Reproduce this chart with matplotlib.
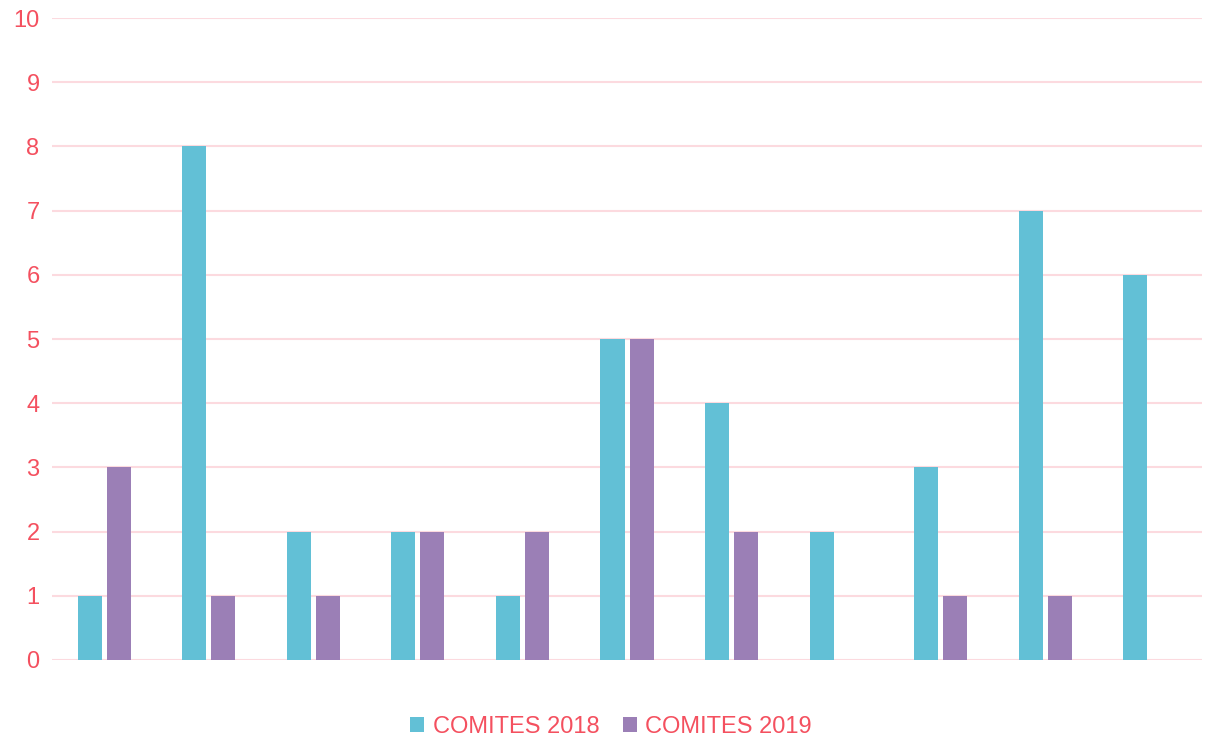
import matplotlib.pyplot as plt
import numpy as np

plt.rcParams['font.family'] = ['Liberation Sans', 'DejaVu Sans']

groups = np.arange(11)
comites_2018 = [1, 8, 2, 2, 1, 5, 4, 2, 3, 7, 6]
comites_2019 = [3, 1, 1, 2, 2, 5, 2, 0, 1, 1, 0]
yticks = list(range(0, 11))

teal = '#62C0D6'
purple = '#9B7FB6'
red = '#F4505F'
grid = '#FCDADF'

fig = plt.figure(figsize=(12.05, 7.36), dpi=100)
ax = fig.add_axes([0.0432, 0.1033, 0.9543, 0.8722])

w = 0.23
ax.bar(groups - 0.139, comites_2018, width=w, color=teal, label='COMITES 2018', zorder=3)
ax.bar(groups + 0.139, comites_2019, width=w, color=purple, label='COMITES 2019', zorder=3)

ax.set_xlim(-0.5, 10.5)
ax.set_ylim(0, 10)
ax.set_yticks(yticks)
ax.set_xticks([])
ax.yaxis.grid(True, color=grid, linewidth=1.5, zorder=0)
ax.set_axisbelow(True)
for s in ax.spines.values():
    s.set_visible(False)
ax.tick_params(axis='y', length=0, pad=9, labelsize=17, labelcolor=red)

leg = fig.legend(loc='lower center', bbox_to_anchor=(0.507, -0.031), ncol=2, frameon=False,
                 fontsize=17, handlelength=0.6, handleheight=0.6, handletextpad=0.35,
                 columnspacing=1.0)
for t in leg.get_texts():
    t.set_color(red)

fig.savefig('out.png', dpi=100)
